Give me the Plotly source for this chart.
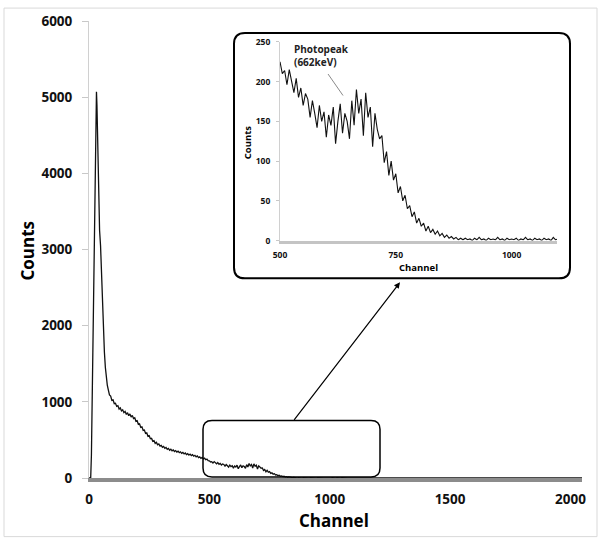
import plotly.graph_objects as go

# ---- data ----
low_ch = [0, 7, 10, 14, 18, 22, 26, 29, 31, 33, 36, 40, 44, 48, 52, 56, 60, 64, 68, 72, 76]
low_counts = [0, 0, 300, 1200, 2300, 3400, 4300, 4850, 5070, 4900, 4300, 3650, 3250, 3050, 2650, 2250,
              1900, 1650, 1450, 1310, 1220]

mid_ch = list(range(80, 500, 5))
mid_counts = [1160, 1090, 1075, 1020, 1025, 975, 980, 940, 950, 905, 920, 880, 895, 858, 875, 835,
              858, 818, 842, 800, 822, 780, 790, 745, 752, 705, 712, 665, 672, 625, 630, 585,
              592, 548, 556, 515, 520, 482, 490, 455, 468, 436, 446, 418, 428, 402, 414, 390,
              402, 376, 388, 364, 378, 356, 368, 348, 360, 340, 352, 332, 344, 324, 336, 316,
              328, 308, 320, 300, 314, 294, 306, 286, 298, 278, 290, 268, 278, 258, 270, 250,
              260, 240, 248, 228]

zoom_ch = list(range(500, 1105, 5))
zoom_counts = [225, 210, 214, 196, 215, 200, 186, 204, 180, 192, 170, 185, 178, 155, 176, 160, 142, 170, 150, 162,
               130, 158, 145, 168, 122, 150, 172, 135, 160, 150, 128, 176, 145, 190, 160, 178, 132, 186, 155, 168,
               118, 160, 140, 128, 132, 98, 112, 82, 100, 76, 84, 60, 68, 50, 57, 40, 44, 30, 36, 22,
               28, 18, 22, 12, 18, 10, 14, 8, 12, 6, 9, 4, 7, 3, 5, 2, 4, 1, 3, 1,
               3, 1, 2, 0, 3, 1, 4, 1, 2, 0, 3, 1, 2, 1, 4, 1, 2, 0, 3, 1,
               2, 1, 3, 0, 2, 1, 4, 1, 2, 0, 3, 1, 2, 0, 3, 1, 2, 0, 4, 1, 2]

tail_ch = [1150, 1300, 1500, 1700, 1900, 2048]
tail_counts = [1, 2, 1, 0, 1, 0]

main_x_ticks = [0, 500, 1000, 1500, 2000]
main_y_ticks = [0, 1000, 2000, 3000, 4000, 5000, 6000]
inset_x_ticks = [500, 750, 1000]
inset_y_ticks = [0, 50, 100, 150, 200, 250]

all_ch = low_ch + mid_ch + zoom_ch + tail_ch
all_counts = low_counts + mid_counts + zoom_counts + tail_counts

FONT = "Open Sans"

fig = go.Figure()
fig.add_trace(go.Scatter(x=all_ch, y=all_counts, mode="lines",
                         line=dict(color="#111111", width=1.3), showlegend=False,
                         xaxis="x", yaxis="y"))
fig.add_trace(go.Scatter(x=zoom_ch, y=zoom_counts, mode="lines",
                         line=dict(color="#111111", width=1.1), showlegend=False,
                         xaxis="x2", yaxis="y2"))

# paper geometry helpers (plot area 89..582 x 18..478 px)
L, R, T, B = 89, 582, 18, 478
def px(x):
    return (x - L) / (R - L)
def py(y):
    return (B - y) / (B - T)

def rounded_path(x0, y0, x1, y1, r):
    X0, X1 = px(x0), px(x1)
    Y0, Y1 = py(y1), py(y0)  # bottom, top
    rx = r / (R - L)
    ry = r / (B - T)
    return (f"M {X0+rx},{Y1} L {X1-rx},{Y1} Q {X1},{Y1} {X1},{Y1-ry} "
            f"L {X1},{Y0+ry} Q {X1},{Y0} {X1-rx},{Y0} L {X0+rx},{Y0} "
            f"Q {X0},{Y0} {X0},{Y0+ry} L {X0},{Y1-ry} Q {X0},{Y1} {X0+rx},{Y1} Z")

shapes = [
    dict(type="rect", xref="paper", yref="paper", x0=px(4), x1=px(597), y0=py(537), y1=py(5),
         line=dict(color="#d9d9d9", width=1), layer="below"),
    dict(type="path", xref="paper", yref="paper", path=rounded_path(234, 30, 570, 277, 11),
         line=dict(color="#000000", width=2), fillcolor="white", layer="below"),
    dict(type="path", xref="paper", yref="paper", path=rounded_path(203, 420, 380, 477, 9),
         line=dict(color="#000000", width=1.5), layer="above"),
]

def label(text, x, y, size, angle=0):
    return dict(text=f"<b>{text}</b>", xref="paper", yref="paper", x=px(x), y=py(y),
                xanchor="center", yanchor="middle", textangle=angle, showarrow=False,
                font=dict(family=FONT, size=size, color="#000"))

annotations = [
    label("Counts", 27, 249, 17, -90),
    label("Channel", 334, 521, 17),
    label("Counts", 247, 140, 9.5, -90),
    label("Channel", 418, 266, 9.5),
    dict(text="<b>Photopeak<br>(662keV)</b>", xref="paper", yref="paper", x=px(292), y=py(37),
         xanchor="left", yanchor="top", align="left", showarrow=False,
         font=dict(family=FONT, size=10, color="#222")),
    dict(text="", xref="paper", yref="paper", x=px(343), y=py(93), ax=-16, ay=-23,
         showarrow=True, arrowhead=0, arrowwidth=1, arrowcolor="#8a8a8a"),
    dict(text="", xref="paper", yref="paper", x=px(400), y=py(281), ax=-107, ay=139,
         showarrow=True, arrowhead=2, arrowsize=1, arrowwidth=1.2, arrowcolor="#000"),
]

fig.update_layout(
    width=601, height=541,
    margin=dict(l=L, r=601 - R, t=T, b=541 - B),
    paper_bgcolor="white", plot_bgcolor="rgba(0,0,0,0)",
    shapes=shapes, annotations=annotations,
    xaxis=dict(range=[0, 2048], tickvals=main_x_ticks, showgrid=False, zeroline=False,
               showline=True, linecolor="#8c8c8c", linewidth=4, ticks="",
               ticklabelstandoff=6,
               tickfont=dict(family=FONT, size=13.5, color="#111", weight="bold")),
    yaxis=dict(range=[0, 6000], tickvals=main_y_ticks, showgrid=False, zeroline=False,
               showline=True, linecolor="#d0d0d0", linewidth=1, ticks="outside", ticklen=6,
               tickcolor="#c8c8c8", ticklabelstandoff=7,
               tickfont=dict(family=FONT, size=13.5, color="#111", weight="bold")),
    xaxis2=dict(domain=[px(280), px(557)], anchor="y2", range=[500, 1098], tickvals=inset_x_ticks,
                showgrid=False, zeroline=False, showline=True, linecolor="#c4c4c4", linewidth=3,
                ticks="", ticklabelstandoff=4,
                tickfont=dict(family=FONT, size=8.5, color="#111", weight="bold")),
    yaxis2=dict(domain=[py(239), py(39)], anchor="x2", range=[0, 250], tickvals=inset_y_ticks,
                showgrid=False, zeroline=False, showline=True, linecolor="#d0d0d0", linewidth=1,
                ticks="outside", ticklen=3, tickcolor="#c8c8c8", ticklabelstandoff=4,
                tickfont=dict(family=FONT, size=8.5, color="#111", weight="bold")),
)

fig.write_html("out.html", config={"displayModeBar": False},
               post_script="document.body.style.margin='0';")
